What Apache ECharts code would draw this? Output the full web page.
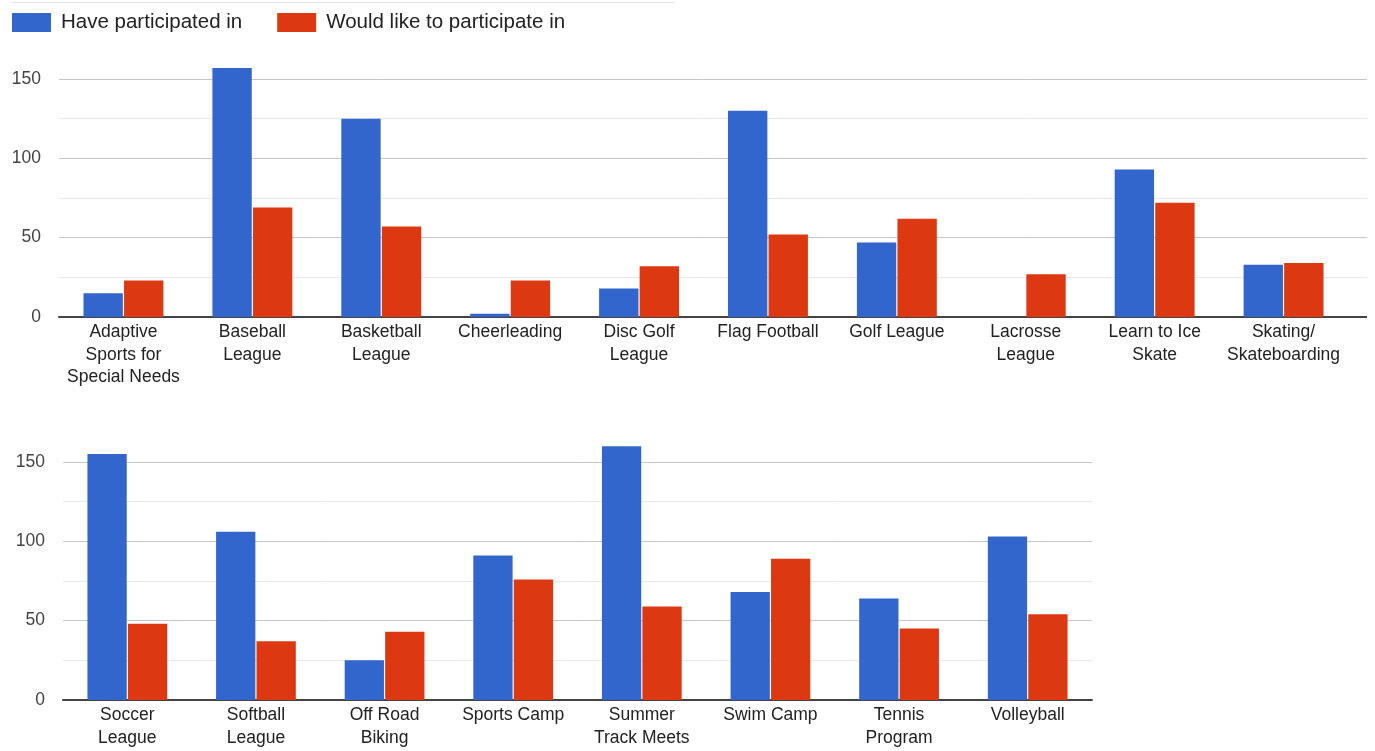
<!DOCTYPE html>
<html>
<head>
<meta charset="utf-8">
<script src="https://cdn.jsdelivr.net/npm/echarts@6/dist/echarts.min.js"></script>
<style>
html,body{margin:0;padding:0;background:#fff;}
#chart{width:1375px;height:751px;}
</style>
</head>
<body>
<div id="chart"></div>
<script>
const seriesNames = ['Have participated in', 'Would like to participate in'];

const categoriesTop = [
  'Adaptive\nSports for\nSpecial Needs', 'Baseball\nLeague', 'Basketball\nLeague', 'Cheerleading',
  'Disc Golf\nLeague', 'Flag Football', 'Golf League', 'Lacrosse\nLeague', 'Learn to Ice\nSkate',
  'Skating/\nSkateboarding'
];
const haveTop  = [15, 157, 125, 2, 18, 130, 47, 0, 93, 33];
const wouldTop = [23, 69, 57, 23, 32, 52, 62, 27, 72, 34];

const categoriesBottom = [
  'Soccer\nLeague', 'Softball\nLeague', 'Off Road\nBiking', 'Sports Camp',
  'Summer\nTrack Meets', 'Swim Camp', 'Tennis\nProgram', 'Volleyball'
];
const haveBottom  = [155, 106, 25, 91, 160, 68, 64, 103];
const wouldBottom = [48, 37, 43, 76, 59, 89, 45, 54];

const yTicks = { min: 0, max: 150, interval: 50 };

const FONT = 'Arial, "Liberation Sans", Helvetica, sans-serif';
const BLUE = '#3366cc', RED = '#dc3912';
const MAJOR = '#c6c6c6', MINOR = '#e8e8e8', BASE = '#444';

const chart = echarts.init(document.getElementById('chart'), null, { renderer: 'canvas' });

function xAxisFor(cats, gi) {
  return {
    type: 'category', gridIndex: gi, data: cats,
    axisTick: { show: false },
    axisLine: { show: true, lineStyle: { color: BASE, width: 2 } },
    axisLabel: { interval: 0, color: '#222', fontSize: 17.5, lineHeight: 22.5, margin: 4, fontFamily: FONT },
    splitLine: { show: false }
  };
}
function yAxisFor(gi) {
  return {
    type: 'value', gridIndex: gi, min: yTicks.min, max: yTicks.max, interval: yTicks.interval,
    axisLine: { show: false }, axisTick: { show: false },
    axisLabel: { color: '#444', fontSize: 17.5, margin: 18, fontFamily: FONT },
    splitLine: { show: true, lineStyle: { color: MAJOR, width: 1 } },
    minorTick: { show: false, splitNumber: 2 },
    minorSplitLine: { show: true, lineStyle: { color: MINOR, width: 1 } }
  };
}
function barSeries(name, data, color, gi) {
  return {
    name: name, type: 'bar', xAxisIndex: gi, yAxisIndex: gi, data: data,
    clip: false, barGap: '3%', barCategoryGap: '38%',
    itemStyle: { color: color }, emphasis: { disabled: true }, animation: false
  };
}

chart.setOption({
  animation: false,
  textStyle: { fontFamily: FONT },
  legend: {
    data: seriesNames, left: 12, top: 12, padding: 0,
    icon: 'rect', itemWidth: 39, itemHeight: 19, itemGap: 35,
    textStyle: { fontSize: 20.5, color: '#222', fontFamily: FONT, padding: [0, 0, 0, 5] }
  },
  color: [BLUE, RED],
  grid: [
    { left: 59, top: 79, width: 1289, height: 238, containLabel: false },
    { left: 63, top: 462, width: 1029, height: 238, containLabel: false }
  ],
  xAxis: [xAxisFor(categoriesTop, 0), xAxisFor(categoriesBottom, 1)],
  yAxis: [yAxisFor(0), yAxisFor(1)],
  series: [
    barSeries(seriesNames[0], haveTop, BLUE, 0),
    barSeries(seriesNames[1], wouldTop, RED, 0),
    barSeries(seriesNames[0], haveBottom, BLUE, 1),
    barSeries(seriesNames[1], wouldBottom, RED, 1)
  ]
});

// extend top grid's gridlines to the right edge like the reference
const extra = [{ type: 'line', shape: { x1: 11, y1: 2.5, x2: 675, y2: 2.5 }, style: { stroke: '#e6e6e6', lineWidth: 1 } }];
for (let v = yTicks.min + 25; v <= yTicks.max; v += 25) {
  const y = Math.round(chart.convertToPixel({ yAxisIndex: 0 }, v) - 0.5) + 0.5;
  const major = v % yTicks.interval === 0;
  extra.push({
    type: 'line', z: 0,
    shape: { x1: 1347, y1: y, x2: 1367, y2: y },
    style: { stroke: major ? MAJOR : MINOR, lineWidth: 1 }
  });
}
const y0 = Math.round(chart.convertToPixel({ yAxisIndex: 0 }, 0));
extra.push({ type: 'line', z: 0, shape: { x1: 1347, y1: y0, x2: 1367, y2: y0 }, style: { stroke: BASE, lineWidth: 2 } });
chart.setOption({ graphic: extra });
</script>
</body>
</html>
